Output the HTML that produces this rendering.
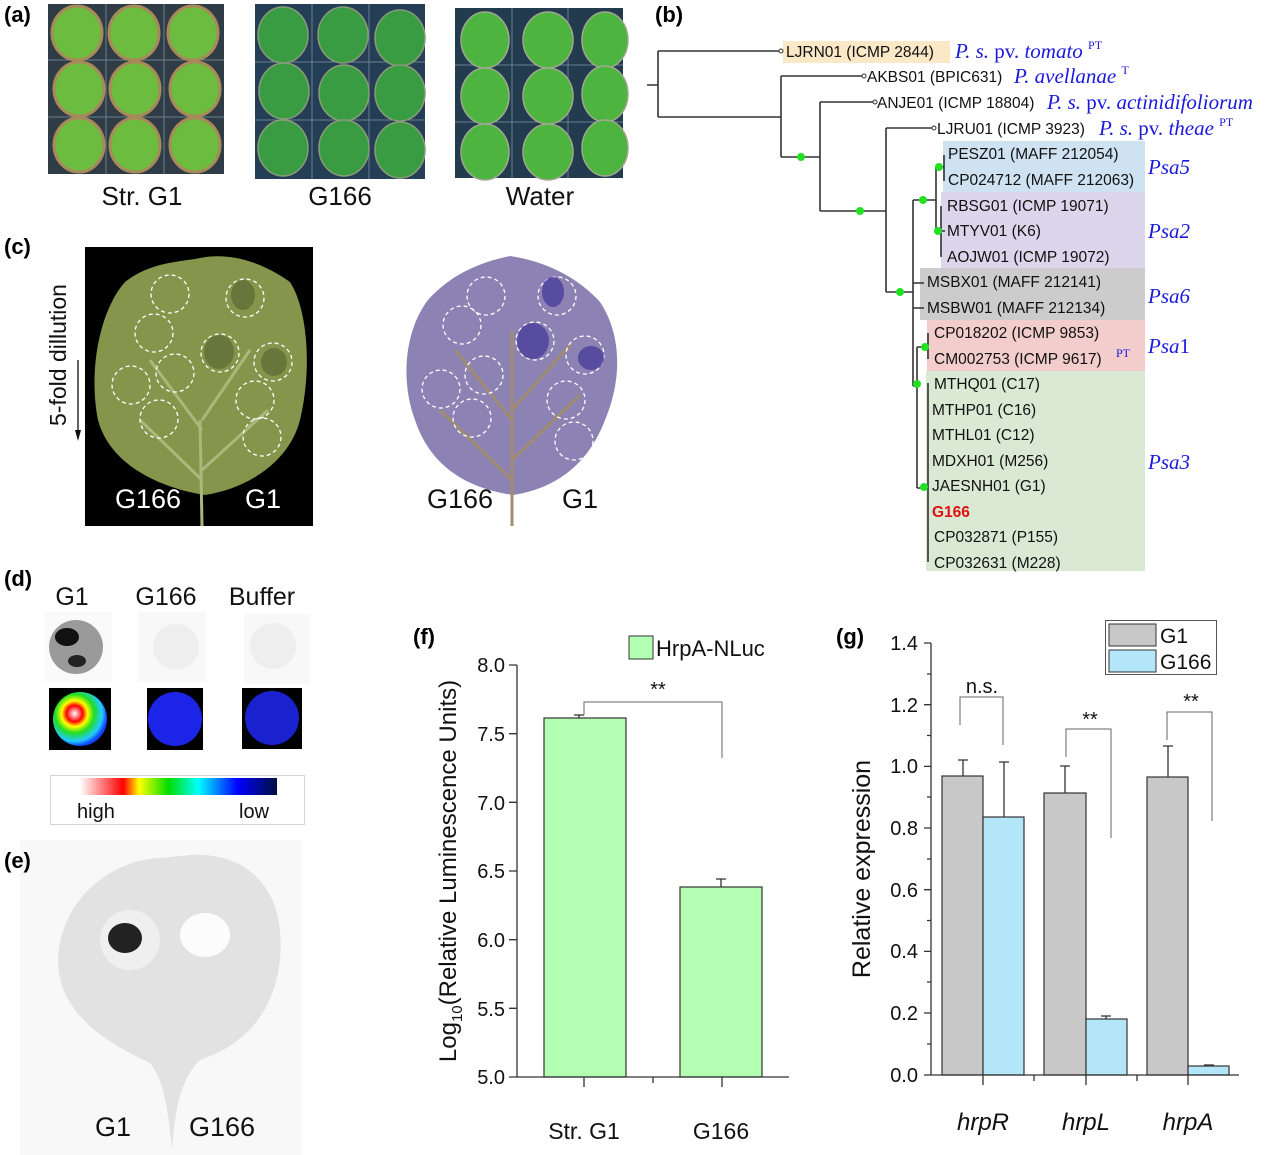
<!DOCTYPE html>
<html><head><meta charset="utf-8"><style>
html,body{margin:0;padding:0;background:#fff;}
svg{display:block;}
text{font-family:"Liberation Sans",Arial,sans-serif;}
g.ser text, text.ser{font-family:"Liberation Serif","Times New Roman",serif;font-style:italic;fill:#1a1adc;}
.tip{font-size:15.5px;fill:#111;}
</style></head><body>
<svg width="1269" height="1155" viewBox="0 0 1269 1155" xmlns="http://www.w3.org/2000/svg">
<defs>
<linearGradient id="heat" x1="0" x2="1" y1="0" y2="0">
<stop offset="0" stop-color="#fff"/><stop offset="0.15" stop-color="#ff5050"/><stop offset="0.22" stop-color="#f00"/><stop offset="0.3" stop-color="#ff0"/><stop offset="0.45" stop-color="#0d0"/><stop offset="0.6" stop-color="#0ff"/><stop offset="0.8" stop-color="#00f"/><stop offset="1" stop-color="#001040"/>
</linearGradient>
<radialGradient id="hot" cx="0.4" cy="0.4" r="0.6">
<stop offset="0" stop-color="#fff"/><stop offset="0.25" stop-color="#f00"/><stop offset="0.4" stop-color="#ff0"/><stop offset="0.6" stop-color="#2d2"/><stop offset="0.85" stop-color="#2cf"/><stop offset="1" stop-color="#14f"/>
</radialGradient>
</defs>

<!-- (e) background first -->
<rect x="20" y="840" width="282" height="315" fill="#f8f8f8"/>
<path d="M190,855 C240,852 275,880 280,930 C285,990 260,1040 200,1060 C180,1080 175,1110 172,1150 C168,1110 164,1080 150,1063 C100,1040 58,1010 58,960 C60,900 110,860 160,858 Z" fill="#e2e2e2"/>
<ellipse cx="130" cy="940" rx="30" ry="30" fill="#efefef"/>
<ellipse cx="125" cy="938" rx="17" ry="15" fill="#222"/>
<ellipse cx="205" cy="935" rx="25" ry="22" fill="#fcfcfc"/>
<g font-size="27" text-anchor="middle" fill="#111"><text x="113" y="1136">G1</text><text x="222" y="1136">G166</text></g>

<!-- panel labels -->
<g font-weight="bold" font-size="22">
<text x="4" y="22">(a)</text><text x="655" y="22">(b)</text><text x="4" y="254">(c)</text>
<text x="4" y="586">(d)</text><text x="4" y="868">(e)</text><text x="413" y="644">(f)</text><text x="836" y="644">(g)</text>
</g>

<!-- (a) -->
<rect x="48" y="4" width="176" height="170" fill="#2f3c46"/>
<rect x="255" y="4" width="170" height="175" fill="#243e55"/>
<rect x="455" y="8" width="168" height="170" fill="#233b4e"/>
<g stroke="#6b7f90" stroke-width="1">
<line x1="48" y1="60" x2="224" y2="60"/><line x1="48" y1="117" x2="224" y2="117"/><line x1="106" y1="4" x2="106" y2="174"/><line x1="164" y1="4" x2="164" y2="174"/>
<line x1="255" y1="62" x2="425" y2="62"/><line x1="255" y1="120" x2="425" y2="120"/><line x1="312" y1="4" x2="312" y2="179"/><line x1="369" y1="4" x2="369" y2="179"/>
<line x1="455" y1="65" x2="623" y2="65"/><line x1="455" y1="122" x2="623" y2="122"/><line x1="512" y1="8" x2="512" y2="178"/><line x1="568" y1="8" x2="568" y2="178"/>
</g>
<g fill="#6cbc40" stroke="#a88a5a" stroke-width="3">
<ellipse cx="77" cy="33" rx="25" ry="27"/><ellipse cx="134" cy="33" rx="25" ry="27"/><ellipse cx="193" cy="33" rx="25" ry="27"/>
<ellipse cx="79" cy="89" rx="25" ry="27"/><ellipse cx="135" cy="89" rx="25" ry="27"/><ellipse cx="195" cy="89" rx="25" ry="27"/>
<ellipse cx="79" cy="145" rx="25" ry="27"/><ellipse cx="135" cy="145" rx="25" ry="27"/><ellipse cx="195" cy="145" rx="25" ry="27"/>
</g>
<g fill="#3a9c42" stroke="#8a9a7a" stroke-width="1.5">
<ellipse cx="283" cy="35" rx="25" ry="28"/><ellipse cx="343" cy="35" rx="25" ry="28"/><ellipse cx="400" cy="38" rx="25" ry="28"/>
<ellipse cx="284" cy="91" rx="25" ry="28"/><ellipse cx="344" cy="93" rx="25" ry="28"/><ellipse cx="400" cy="93" rx="25" ry="28"/>
<ellipse cx="283" cy="148" rx="25" ry="28"/><ellipse cx="344" cy="148" rx="25" ry="28"/><ellipse cx="400" cy="150" rx="25" ry="28"/>
</g>
<g fill="#4db43f" stroke="#a0a890" stroke-width="1.5">
<ellipse cx="485" cy="40" rx="24" ry="28"/><ellipse cx="548" cy="40" rx="25" ry="28"/><ellipse cx="605" cy="40" rx="23" ry="28"/>
<ellipse cx="485" cy="96" rx="24" ry="28"/><ellipse cx="548" cy="96" rx="25" ry="28"/><ellipse cx="605" cy="94" rx="23" ry="28"/>
<ellipse cx="485" cy="152" rx="24" ry="28"/><ellipse cx="548" cy="152" rx="25" ry="28"/><ellipse cx="605" cy="148" rx="23" ry="28"/>
</g>
<g font-size="26" text-anchor="middle" fill="#111">
<text x="142" y="205">Str. G1</text><text x="340" y="205">G166</text><text x="540" y="205">Water</text>
</g>

<!-- (c) -->
<rect x="85" y="247" width="228" height="279" fill="#000"/>
<path d="M200,258 C230,252 262,262 290,282 C308,310 312,370 300,420 C290,460 250,488 205,495 C160,488 110,465 98,420 C88,370 100,310 125,282 C150,262 180,262 200,258 Z" fill="#85954c"/>
<path d="M200,420 L202,526 M202,480 L140,420 M202,470 L268,410 M202,430 L150,360 M202,420 L250,350" stroke="#aab87a" stroke-width="3" fill="none"/>
<g fill="none" stroke="#fff" stroke-width="1.3" stroke-dasharray="4,3">
<circle cx="170" cy="294" r="19"/><circle cx="245" cy="298" r="19"/><circle cx="154" cy="333" r="19"/><circle cx="220" cy="353" r="19"/>
<circle cx="273" cy="362" r="19"/><circle cx="175" cy="373" r="19"/><circle cx="131" cy="385" r="19"/><circle cx="255" cy="400" r="19"/>
<circle cx="159" cy="419" r="19"/><circle cx="262" cy="437" r="19"/>
</g>
<ellipse cx="219" cy="352" rx="15" ry="17" fill="#53622e" opacity="0.6"/>
<ellipse cx="243" cy="295" rx="12" ry="15" fill="#53622e" opacity="0.6"/>
<ellipse cx="274" cy="362" rx="13" ry="14" fill="#53622e" opacity="0.6"/>
<g font-size="27" text-anchor="middle" fill="#fff"><text x="148" y="508">G166</text><text x="263" y="508">G1</text></g>
<text transform="translate(66,355) rotate(-90)" font-size="23" text-anchor="middle" fill="#111">5-fold dillution</text>
<line x1="78" y1="360" x2="78" y2="435" stroke="#111" stroke-width="1.3"/>
<path d="M75,430 L78,441 L81,430 Z" fill="#111"/>

<path d="M510,256 C550,262 580,280 600,302 C622,335 622,380 605,420 C590,460 560,488 513,495 C465,488 430,465 415,420 C400,380 405,330 428,300 C450,275 480,262 510,256 Z" fill="#8c82b4"/>
<path d="M512,330 L512,526 M512,480 L440,410 M512,460 L580,395 M512,420 L455,350 M512,410 L570,345" stroke="#a08c70" stroke-width="3" fill="none"/>
<g fill="none" stroke="#fff" stroke-width="1.3" stroke-dasharray="4,3">
<circle cx="486" cy="296" r="19"/><circle cx="557" cy="296" r="19"/><circle cx="462" cy="325" r="19"/><circle cx="535" cy="341" r="19"/>
<circle cx="585" cy="355" r="19"/><circle cx="484" cy="375" r="19"/><circle cx="441" cy="389" r="19"/><circle cx="566" cy="400" r="19"/>
<circle cx="472" cy="418" r="19"/><circle cx="574" cy="441" r="19"/>
</g>
<ellipse cx="533" cy="341" rx="16" ry="18" fill="#4a3e9a" opacity="0.8"/>
<ellipse cx="553" cy="292" rx="11" ry="15" fill="#4a3e9a" opacity="0.8"/>
<ellipse cx="591" cy="358" rx="13" ry="12" fill="#4a3e9a" opacity="0.8"/>
<g font-size="27" text-anchor="middle" fill="#111"><text x="460" y="508">G166</text><text x="580" y="508">G1</text></g>

<!-- (b) tree -->
<rect x="783" y="41" width="167" height="22" fill="#fbe8c6"/>
<rect x="943" y="141" width="202" height="51" fill="#cfe2f2"/>
<rect x="941" y="192" width="204" height="76" fill="#dcd6ec"/>
<rect x="920" y="268" width="225" height="52" fill="#cccccc"/>
<rect x="927" y="320" width="218" height="51" fill="#f3cccc"/>
<rect x="926" y="371" width="219" height="200" fill="#d9e9d4"/>
<g stroke="#333" stroke-width="1.6" fill="none">
<path d="M647,85 H658 M658,51 V117 M658,51 H780 M658,117 H781"/>
<path d="M781,76 V157 M781,76 H864 M781,157 H820"/>
<path d="M820,102 V211 M820,102 H875 M820,211 H886"/>
<path d="M886,128 V292 M886,128 H934 M886,292 H913"/>
<path d="M913,200 V386 M913,200 H936 M913,283 H924 M913,308 H924 M913,386 H917"/>
<path d="M936,167 V231 M936,167 H944 M936,231 H941"/>
<path d="M944,155 V181 M941,206 V257 M941,231 H945"/>
<path d="M917,347 V488 M917,347 H928 M928,333 V359 M917,488 H928 M928,383 V562"/>
</g>
<g fill="#fff" stroke="#333" stroke-width="1"><circle cx="781" cy="51" r="2"/><circle cx="864" cy="76" r="2"/><circle cx="875" cy="102" r="2"/><circle cx="934" cy="128" r="2"/></g>
<g fill="#22e022"><circle cx="801" cy="157" r="4"/><circle cx="860" cy="211" r="4"/><circle cx="900" cy="292" r="4"/><circle cx="923" cy="200" r="4"/><circle cx="939" cy="167" r="4"/><circle cx="938" cy="231" r="4"/><circle cx="925" cy="347" r="4"/><circle cx="917" cy="384" r="4"/><circle cx="924" cy="487" r="4"/></g>
<g class="tip">
<text x="786" y="57">LJRN01 (ICMP 2844)</text>
<text x="867" y="82">AKBS01 (BPIC631)</text>
<text x="877" y="108">ANJE01 (ICMP 18804)</text>
<text x="937" y="134">LJRU01 (ICMP 3923)</text>
<text x="948" y="159">PESZ01 (MAFF 212054)</text>
<text x="948" y="185">CP024712 (MAFF 212063)</text>
<text x="947" y="211">RBSG01 (ICMP 19071)</text>
<text x="947" y="236">MTYV01 (K6)</text>
<text x="947" y="262">AOJW01 (ICMP 19072)</text>
<text x="927" y="287">MSBX01 (MAFF 212141)</text>
<text x="927" y="313">MSBW01 (MAFF 212134)</text>
<text x="934" y="338">CP018202 (ICMP 9853)</text>
<text x="934" y="364">CM002753 (ICMP 9617)</text>
<text x="934" y="389">MTHQ01 (C17)</text>
<text x="932" y="415">MTHP01 (C16)</text>
<text x="932" y="440">MTHL01 (C12)</text>
<text x="932" y="466">MDXH01 (M256)</text>
<text x="932" y="491">JAESNH01 (G1)</text>
<text x="932" y="517" fill="#e01010" font-weight="bold">G166</text>
<text x="934" y="542">CP032871 (P155)</text>
<text x="934" y="568">CP032631 (M228)</text>
</g>
<g class="ser" font-size="21">
<text x="955" y="58">P. s. <tspan font-style="normal">pv.</tspan> tomato <tspan font-size="12" dy="-9" font-style="normal">PT</tspan></text>
<text x="1014" y="83">P. avellanae <tspan font-size="12" dy="-9" font-style="normal">T</tspan></text>
<text x="1047" y="109">P. s. <tspan font-style="normal">pv.</tspan> actinidifoliorum</text>
<text x="1099" y="135">P. s. <tspan font-style="normal">pv.</tspan> theae <tspan font-size="12" dy="-9" font-style="normal">PT</tspan></text>
<text x="1116" y="357" font-size="12" style="font-style:normal">PT</text>
<text x="1148" y="174">Psa5</text><text x="1148" y="238">Psa2</text><text x="1148" y="303">Psa6</text><text x="1148" y="353">Psa<tspan font-style="normal">1</tspan></text><text x="1148" y="469">Psa3</text>
</g>

<!-- (d) -->
<g font-size="25" text-anchor="middle" fill="#111"><text x="72" y="605">G1</text><text x="166" y="605">G166</text><text x="262" y="605">Buffer</text></g>
<rect x="44" y="612" width="68" height="70" fill="#fafafa"/><rect x="138" y="612" width="68" height="70" fill="#f8f8f8"/><rect x="244" y="614" width="66" height="70" fill="#f8f8f8"/>
<circle cx="76" cy="647" r="27" fill="#9a9a9a"/>
<ellipse cx="67" cy="637" rx="12" ry="9" fill="#111"/><ellipse cx="77" cy="661" rx="9" ry="6" fill="#222"/>
<circle cx="176" cy="647" r="23" fill="#eee"/><circle cx="273" cy="646" r="23" fill="#eee"/>
<rect x="49" y="688" width="62" height="62" fill="#000"/>
<circle cx="80" cy="719" r="27" fill="url(#hot)"/>
<rect x="147" y="688" width="56" height="62" fill="#000"/>
<circle cx="175" cy="719" r="27" fill="#1c24e8"/>
<rect x="242" y="688" width="60" height="61" fill="#000"/>
<circle cx="272" cy="718" r="27" fill="#1a22d0"/>
<rect x="50.5" y="775.5" width="254" height="49" fill="#fff" stroke="#aaa" stroke-dasharray="1,1"/>
<rect x="80" y="778" width="197" height="17" fill="url(#heat)"/>
<g font-size="20" fill="#111"><text x="77" y="818">high</text><text x="239" y="818">low</text></g>

<!-- (f) -->
<rect x="629" y="636" width="24" height="23" fill="#b3ffb3" stroke="#333"/>
<text x="656" y="656" font-size="22" fill="#111">HrpA-NLuc</text>
<rect x="544" y="718" width="82" height="359" fill="#b3ffb3" stroke="#333" stroke-width="1.2"/>
<rect x="680" y="887" width="82" height="190" fill="#b3ffb3" stroke="#333" stroke-width="1.2"/>
<g stroke="#333" stroke-width="1.3" fill="none">
<path d="M579,718 V715 M574,715 H584"/>
<path d="M721,887 V879 M716,879 H726"/>
<path d="M517,665 V1077 H789"/>
<path d="M509,665 H517 M509,733.7 H517 M509,802.3 H517 M509,871 H517 M509,939.7 H517 M509,1008.3 H517 M509,1077 H517"/>
<path d="M584,1077 V1087 M653,1077 V1083 M722,1077 V1087"/>
</g>
<path d="M584,715 V702 H722 V758" stroke="#666" stroke-width="1" fill="none"/>
<text x="658" y="696" font-size="20" text-anchor="middle" fill="#111">**</text>
<g font-size="20" fill="#111" text-anchor="end">
<text x="505" y="672">8.0</text><text x="505" y="741">7.5</text><text x="505" y="810">7.0</text><text x="505" y="878">6.5</text><text x="505" y="947">6.0</text><text x="505" y="1016">5.5</text><text x="505" y="1084">5.0</text>
</g>
<g font-size="23" fill="#111" text-anchor="middle"><text x="584" y="1139">Str. G1</text><text x="721" y="1139">G166</text></g>
<text transform="translate(456,871) rotate(-90)" font-size="24" text-anchor="middle" fill="#111">Log<tspan font-size="15" dy="6">10</tspan><tspan dy="-6">(Relative Luminescence Units)</tspan></text>

<!-- (g) -->
<rect x="1105.5" y="620.5" width="111" height="54" fill="#fff" stroke="#555"/>
<rect x="1109" y="624" width="47" height="22" fill="#c8c8c8" stroke="#333"/>
<rect x="1109" y="650" width="47" height="22" fill="#b4e6fa" stroke="#333"/>
<g font-size="21" fill="#111"><text x="1160" y="643">G1</text><text x="1160" y="669">G166</text></g>
<g stroke="#333" stroke-width="1.2">
<rect x="942" y="776" width="41" height="299" fill="#c8c8c8"/>
<rect x="983" y="817" width="41" height="258" fill="#b4e6fa"/>
<rect x="1044" y="793" width="42" height="282" fill="#c8c8c8"/>
<rect x="1086" y="1019" width="41" height="56" fill="#b4e6fa"/>
<rect x="1147" y="777" width="41" height="298" fill="#c8c8c8"/>
<rect x="1188" y="1066" width="41" height="9" fill="#b4e6fa"/>
</g>
<g stroke="#333" stroke-width="1.3" fill="none">
<path d="M963,776 V760 M958,760 H968 M1004,817 V762 M999,762 H1009 M1065,793 V766 M1060,766 H1070 M1106,1019 V1016 M1101,1016 H1111 M1168,777 V746 M1163,746 H1173 M1209,1066 V1065 M1204,1065 H1214"/>
<path d="M931,643 V1075 H1239"/>
<path d="M924,643 H931 M924,704.7 H931 M924,766.4 H931 M924,828 H931 M924,889.7 H931 M924,951.4 H931 M924,1013 H931 M924,1075 H931"/>
<path d="M927,674 H931 M927,735.5 H931 M927,797 H931 M927,859 H931 M927,920.5 H931 M927,982 H931 M927,1044 H931"/>
<path d="M983,1075 V1085 M1034,1075 V1081 M1086,1075 V1085 M1137,1075 V1081 M1188,1075 V1085"/>
</g>
<g stroke="#666" stroke-width="1" fill="none">
<path d="M960,725 V697 H1003 V745"/><path d="M1066,757 V729 H1111 V838"/><path d="M1167,740 V712 H1212 V821"/>
</g>
<g font-size="20" fill="#111" text-anchor="middle"><text x="982" y="693">n.s.</text><text x="1090" y="726">**</text><text x="1191" y="708">**</text></g>
<g font-size="20" fill="#111" text-anchor="end">
<text x="918" y="650">1.4</text><text x="918" y="712">1.2</text><text x="918" y="773">1.0</text><text x="918" y="835">0.8</text><text x="918" y="897">0.6</text><text x="918" y="958">0.4</text><text x="918" y="1020">0.2</text><text x="918" y="1082">0.0</text>
</g>
<g font-size="24" font-style="italic" fill="#111" text-anchor="middle"><text x="983" y="1130">hrpR</text><text x="1086" y="1130">hrpL</text><text x="1188" y="1130">hrpA</text></g>
<text transform="translate(870,869) rotate(-90)" font-size="25" text-anchor="middle" fill="#111">Relative expression</text>
</svg>
</body></html>
